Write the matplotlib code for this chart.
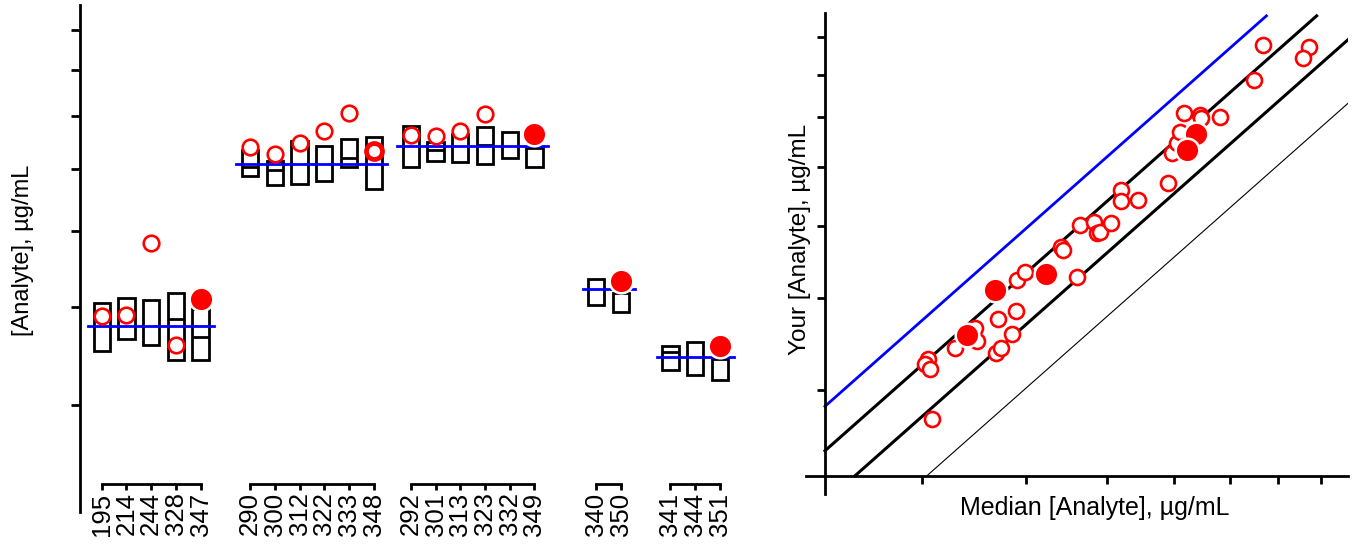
import matplotlib
matplotlib.use('Agg')
import matplotlib.pyplot as plt
import numpy as np
from matplotlib.ticker import FixedLocator, NullLocator, NullFormatter

plt.rcParams['font.family'] = ['Liberation Sans', 'DejaVu Sans']

RED = '#ff0000'
BLUE = '#0000ff'

# ---- left panel: lab results by sample group ----
groups = [
    ['195', '214', '244', '328', '347'],
    ['290', '300', '312', '322', '333', '348'],
    ['292', '301', '313', '323', '332', '349'],
    ['340', '350'],
    ['341', '344', '351'],
]
group_median = [3.78, 6.08, 6.40, 4.22, 3.45]

box_top = [4.05, 4.11, 4.08, 4.17, 3.97,
           6.34, 6.14, 6.51, 6.41, 6.54, 6.58,
           6.79, 6.49, 6.64, 6.77, 6.67, 6.37,
           4.34, 4.17,
           3.57, 3.61, 3.43]
box_mid = [np.nan, np.nan, np.nan, 3.86, 3.66,
           6.03, 5.98, np.nan, np.nan, 6.18, np.nan,
           np.nan, 6.34, np.nan, 6.43, np.nan, np.nan,
           np.nan, np.nan,
           3.50, np.nan, np.nan]
box_bot = [3.51, 3.64, 3.58, 3.42, 3.42,
           5.87, 5.72, 5.73, 5.79, 6.02, 5.65,
           6.03, 6.14, 6.11, 6.08, 6.18, 6.02,
           4.02, 3.94,
           3.32, 3.28, 3.23]
lab_value = [3.89, 3.90, 4.83, 3.58, 4.09,
             6.39, 6.26, 6.47, 6.69, 7.07, 6.31,
             6.62, 6.60, 6.69, 7.04, np.nan, 6.64,
             np.nan, 4.31,
             np.nan, np.nan, 3.57]
own_labs = ['347', '349', '350', '351']
thick_labs = ['348']

# ---- right panel: your result vs median ----
median_open = [3.057, 3.028, 3.070, 3.090, 3.289, 3.470, 3.496, 3.681, 3.727,
               3.701, 3.892, 3.849, 3.900, 3.990, 4.602, 4.401, 4.426, 4.638,
               4.819, 4.857, 4.895, 5.046, 5.193, 5.197, 5.443, 5.911, 5.967,
               6.054, 6.098, 6.177, 6.456, 6.474, 6.819, 7.680, 8.708, 8.551,
               7.489]
your_open = [3.301, 3.253, 3.205, 2.741, 3.422, 3.636, 3.489, 3.369, 3.416,
             3.747, 3.838, 3.569, 4.228, 4.335, 4.268, 4.682, 4.643, 5.011,
             5.057, 4.893, 4.909, 5.045, 5.594, 5.395, 5.410, 5.706, 6.264,
             6.470, 6.698, 7.092, 7.055, 6.979, 7.003, 8.775, 8.715, 8.411,
             7.862]
median_own = [6.387, 6.219, 4.222, 3.667, 3.395]
your_own = [6.648, 6.322, 4.308, 4.094, 3.559]
ratio_lines = [1.24, 1.08, 0.92, 0.755]

fig = plt.figure(figsize=(13.57, 5.46), dpi=100)
ax1 = fig.add_axes([80 / 1357, 34 / 546, 677 / 1357, 507 / 546])
ax2 = fig.add_axes([806.3 / 1357, 51.6 / 546, 542.1 / 1357, 481.2 / 546])

# positions of the labs along the left axis
group_start = [0, 6, 12.5, 20, 23]
pos = []
for s, g in zip(group_start, groups):
    pos += [s + i for i in range(len(g))]
pos = np.array(pos)
labels = [lab for g in groups for lab in g]

bw = 0.66
ax1.set_yscale('log')
ax1.set_ylim(2.192, 9.69)
ax1.set_xlim(-0.878, 26.5)
top = np.array(box_top)
bot = np.array(box_bot)
ax1.bar(pos, top - bot, bottom=bot, width=bw, fill=False,
        edgecolor='k', linewidth=2, zorder=2)
mid = np.array(box_mid)
m = ~np.isnan(mid)
ax1.hlines(mid[m], pos[m] - bw / 2, pos[m] + bw / 2, color='k', lw=2, zorder=2)

i0 = 0
for g, med in zip(groups, group_median):
    p = pos[i0:i0 + len(g)]
    ax1.plot([p[0] - 0.55, p[-1] + 0.55], [med, med], color=BLUE, lw=2, zorder=3)
    i0 += len(g)

vals = np.array(lab_value)
for x, lab, v in zip(pos, labels, vals):
    if np.isnan(v):
        continue
    if lab in own_labs:
        ax1.plot(x, v, 'o', ms=17, mfc=RED, mec='white', mew=1.8, zorder=5)
    elif lab in thick_labs:
        ax1.plot(x, v, 'o', ms=11.5, mfc='white', mec=RED, mew=3.4, zorder=4)
    else:
        ax1.plot(x, v, 'o', ms=11.2, mfc='white', mec=RED, mew=1.9, zorder=4)

for s in ['top', 'right']:
    ax1.spines[s].set_visible(False)
ax1.spines['left'].set_linewidth(2)
ax1.spines['bottom'].set_position(('axes', 0.055))
ax1.spines['bottom'].set_color('none')
ax1.yaxis.set_major_locator(FixedLocator([3, 4, 5, 6, 7, 8, 9]))
ax1.yaxis.set_major_formatter(NullFormatter())
ax1.yaxis.set_minor_locator(NullLocator())
ax1.tick_params(axis='y', direction='out', length=6.5, width=2)
ax1.set_xticks(pos)
ax1.set_xticklabels(labels, rotation=90, fontsize=18.5)
ax1.tick_params(axis='x', direction='out', length=4.5, width=2, pad=1.5)
tr = ax1.get_xaxis_transform()
i0 = 0
for g in groups:
    p = pos[i0:i0 + len(g)]
    ax1.plot([p[0], p[-1]], [0.055, 0.055], transform=tr, color='k', lw=2,
             clip_on=False, solid_capstyle='projecting')
    i0 += len(g)
ax1.set_ylabel('[Analyte], µg/mL', fontsize=17)
ax1.yaxis.set_label_coords(-0.068, 0.516)

# ---- right panel ----
ax2.set_xscale('log')
ax2.set_yscale('log')
ax2.set_xlim(2.185, 9.70)
ax2.set_ylim(2.169, 9.68)
lo, xhi, yhi = 2.3, 9.70, 9.6
for k in ratio_lines:
    x0 = max(lo, lo / k)
    x1 = min(xhi, yhi / k)
    if k == 1.24:
        c, lw = BLUE, 2
    elif k < 0.8:
        c, lw = 'k', 0.8
    else:
        c, lw = 'k', 2.2
    ax2.plot([x0, x1], [k * x0, k * x1], color=c, lw=lw, zorder=2)

ax2.plot(median_open, your_open, 'o', ls='none', ms=10.8, mfc='white',
         mec=RED, mew=1.9, zorder=4)
ax2.plot(median_own, your_own, 'o', ls='none', ms=17, mfc=RED,
         mec='white', mew=1.8, zorder=5)

for s in ['top', 'right']:
    ax2.spines[s].set_visible(False)
for s in ['left', 'bottom']:
    ax2.spines[s].set_position(('data', lo))
    ax2.spines[s].set_linewidth(2)
for axis in [ax2.xaxis, ax2.yaxis]:
    axis.set_major_locator(FixedLocator([3, 4, 5, 6, 7, 8, 9]))
    axis.set_major_formatter(NullFormatter())
    axis.set_minor_locator(NullLocator())
ax2.tick_params(direction='out', length=5.5, width=2)
ax2.set_xlabel('Median [Analyte], µg/mL', fontsize=18)
ax2.xaxis.set_label_coords(0.533, -0.003)
ax2.set_ylabel('Your [Analyte], µg/mL', fontsize=17.5)
ax2.yaxis.set_label_coords(0.0094, 0.529)

fig.savefig('out.png', dpi=100)
